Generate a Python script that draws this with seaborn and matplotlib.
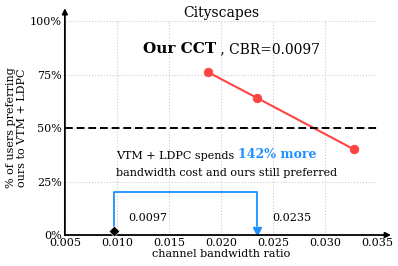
import seaborn as sns
import matplotlib.pyplot as plt
import pandas as pd

# values
cbr = [0.0188, 0.0235, 0.0328]
preferred = [76, 64, 40]
ours_cbr = 0.0097
vtm_cbr = 0.0235
xticks = [0.005, 0.010, 0.015, 0.020, 0.025, 0.030, 0.035]
yticks = [0, 25, 50, 75, 100]
ytick_labels = ["0%", "25%", "50%", "75%", "100%"]

df = pd.DataFrame({"cbr": cbr, "pref": preferred})

sns.set_style("white")
plt.rcParams["font.family"] = ["DejaVu Serif"]
plt.rcParams["text.color"] = "black"
plt.rcParams["axes.labelcolor"] = "black"
plt.rcParams["xtick.color"] = "black"
plt.rcParams["ytick.color"] = "black"

fig = plt.figure(figsize=(3.98, 2.66), dpi=100)
ax = fig.add_axes([0.163, 0.1165, 0.784, 0.8045])

sns.lineplot(data=df, x="cbr", y="pref", color="#ff4444", marker="o",
             markersize=6, markeredgecolor="#ff4444", linewidth=1.5, ax=ax)
ax.axhline(50, color="black", linestyle="--", linewidth=1.4, dashes=(4, 2))

# blue bracket from ours to VTM + LDPC
ax.plot([ours_cbr, ours_cbr, vtm_cbr, vtm_cbr], [2, 20, 20, 4],
        color="#1e90ff", linewidth=1.3)
ax.plot([vtm_cbr], [2], marker="v", color="#1e90ff", markersize=6, clip_on=False)
sns.scatterplot(x=[ours_cbr], y=[2], marker="D", color="black", s=30, ax=ax,
                zorder=5, clip_on=False)

ax.text(0.0130, 8, "0.0097", fontsize=8, ha="center", va="center")
ax.text(0.0268, 8, "0.0235", fontsize=8, ha="center", va="center")

t1 = ax.text(0.0099, 35.5, "VTM + LDPC spends ", fontsize=8, va="baseline")
ax.annotate("142% more", xy=(1, 0), xycoords=t1, va="bottom", fontsize=9,
            color="#1e90ff", fontweight="bold")
ax.text(0.0099, 27.5, "bandwidth cost and ours still preferred", fontsize=8,
        va="baseline")

t2 = ax.text(0.0125, 85, "Our CCT", fontsize=11, fontweight="bold", va="baseline")
ax.annotate(" , CBR=0.0097", xy=(1, 0), xycoords=t2, va="bottom", fontsize=10)

ax.set_xlim(0.005, 0.035)
ax.set_ylim(0, 100)
ax.set_xticks(xticks)
ax.set_xticklabels([f"{v:.3f}" for v in xticks], fontsize=8)
ax.set_yticks(yticks)
ax.set_yticklabels(ytick_labels, fontsize=8)
ax.tick_params(length=0, pad=2)
ax.grid(True, linestyle=":", color="#cccccc", linewidth=0.8)

for s in ax.spines.values():
    s.set_visible(False)
ax.annotate("", xy=(1.045, 0), xytext=(0, 0), xycoords="axes fraction",
            arrowprops=dict(arrowstyle="-|>", color="black", lw=1.3,
                            mutation_scale=8, shrinkA=0, shrinkB=0))
ax.annotate("", xy=(0, 1.06), xytext=(0, 0), xycoords="axes fraction",
            arrowprops=dict(arrowstyle="-|>", color="black", lw=1.3,
                            mutation_scale=8, shrinkA=0, shrinkB=0))

ax.set_title("Cityscapes", fontsize=10, pad=3)
ax.set_xlabel("channel bandwidth ratio", fontsize=8, labelpad=1)
ax.set_ylabel("% of users preferring\nours to VTM + LDPC", fontsize=8, labelpad=2)

plt.savefig("out.png", dpi=100)
